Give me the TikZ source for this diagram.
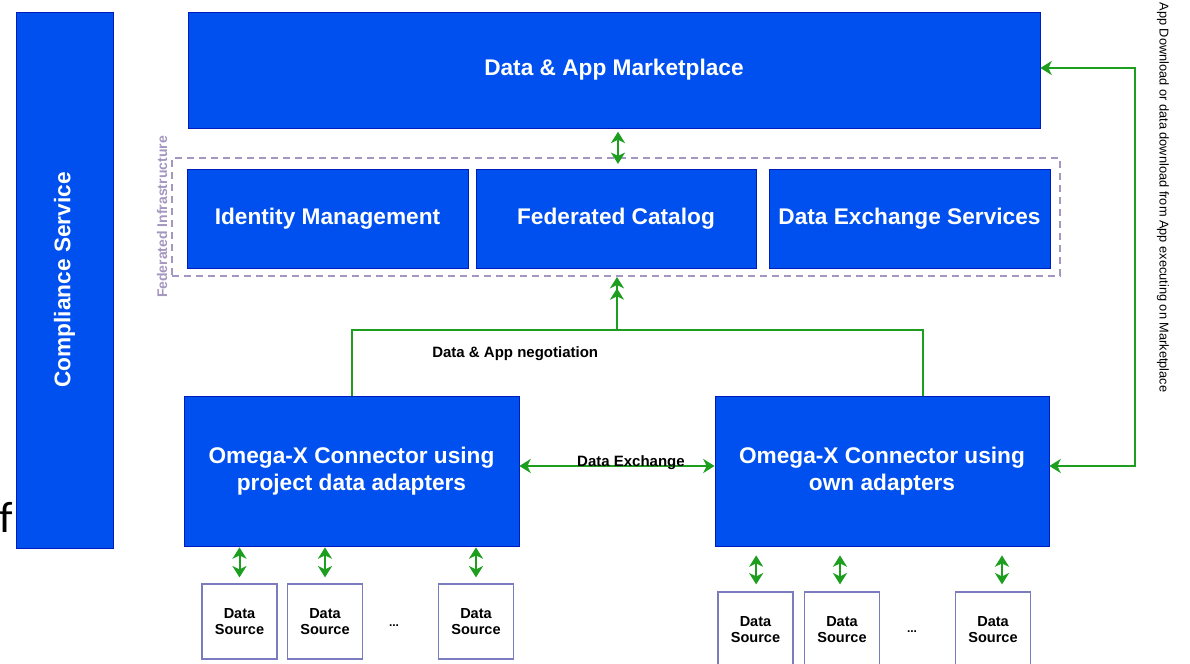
\documentclass[tikz,border=0pt]{standalone}
\usepackage{fontspec}
\setmainfont{Liberation Sans}
\newfontfamily\carl{Carlito}
\usetikzlibrary{arrows.meta,calc}
\definecolor{oxblue}{HTML}{0050EF}
\definecolor{oxstroke}{HTML}{001DBC}
\definecolor{oxgreen}{HTML}{1E9E1E}
\definecolor{dsstroke}{HTML}{7B7BC0}
\definecolor{fedcol}{HTML}{A496C0}
\begin{document}
\begin{tikzpicture}[x=0.75pt,y=-0.75pt,
  bluebox/.style={draw=oxstroke, line width=0.6pt, fill=oxblue, text=white,
    font=\bfseries\fontsize{17}{20}\selectfont, align=center, inner sep=0pt},
  dsbox/.style={draw=dsstroke, line width=0.9pt, fill=white,
    font=\bfseries\fontsize{10.9}{12}\selectfont, align=center,
    minimum width=56.25pt, minimum height=56.25pt, inner sep=0pt},
  tipS/.tip={Stealth[length=8.5pt,width=10.5pt,inset=2.5pt]},
  garrow/.style={draw=oxgreen, line width=1.5pt, tipS-tipS},
  gline/.style={draw=oxgreen, line width=1.5pt},
  lbl/.style={font=\bfseries\fontsize{11.25}{13}\selectfont, inner sep=0pt},
  fedbox/.style={draw=fedcol, line width=1.5pt, dash pattern=on 5.25pt off 3.75pt},
]
\useasboundingbox (0,0) rectangle (1190,664);
\fill[white] (0,0) rectangle (1190,664);

% left cut-off character
\node[font=\carl\fontsize{33}{34}\selectfont, anchor=base west, inner sep=0pt] (fchar) at (-1,532) {f};

% compliance
\node[bluebox, rotate=90, minimum width=402pt, minimum height=72.75pt] (comp) at (64.5,280) {Compliance Service};

% marketplace
\node[bluebox, minimum width=639pt, minimum height=87pt] (market) at (614,70) {Data \& App Marketplace};

% federated infrastructure
\node[fedbox, minimum width=666pt, minimum height=88.5pt, inner sep=0pt] (fed) at (616,217) {};
\node[rotate=90, text=fedcol, font=\bfseries\fontsize{10.5}{12}\selectfont, inner sep=0pt] (fedlbl) at (162,217) {Federated Infrastructure};
\node[bluebox, minimum width=210.75pt, minimum height=74.25pt] (idm) at (327.5,218.5) {Identity Management};
\node[bluebox, minimum width=210pt, minimum height=74.25pt] (fcat) at (616,218.5) {Federated Catalog};
\node[bluebox, minimum width=210.75pt, minimum height=74.25pt] (dxs) at (909.5,218.5) {Data Exchange Services};

% connectors
\node[bluebox, minimum width=251.25pt, minimum height=112.5pt] (conL) at (351.5,471) {Omega-X Connector using\\project data adapters};
\node[bluebox, minimum width=250.5pt, minimum height=112.5pt] (conR) at (882,471) {Omega-X Connector using\\own adapters};

% data sources
\node[dsbox] (ds1) at (239.5,621.5) {Data\\Source};
\node[dsbox] (ds2) at (325,621.5) {Data\\Source};
\node[dsbox] (ds3) at (476,621.5) {Data\\Source};
\node[dsbox] (ds4) at (755.5,629.5) {Data\\Source};
\node[dsbox] (ds5) at (842,629.5) {Data\\Source};
\node[dsbox] (ds6) at (993,629.5) {Data\\Source};
\node[font=\bfseries\fontsize{9}{10}\selectfont, inner sep=0pt] (dotsL) at (394,626) {...};
\node[font=\bfseries\fontsize{9}{10}\selectfont, inner sep=0pt] (dotsR) at (912,632) {...};

% market <-> catalog
\draw[garrow, shorten <=2.5pt, shorten >=3.5pt] (market.south -| 618,0) -- (fcat.north -| 618,0);

% negotiation
\coordinate (negL) at (351.5,330);
\coordinate (negR) at (923,330);
\coordinate (negM) at (617,330);
\draw[gline] (conL.north) -- (negL) -- (negR) -- (negR |- conR.north);
\draw[gline, -{Stealth[length=8.5pt,width=10.5pt,inset=2.5pt]Stealth[length=8.5pt,width=10.5pt,inset=2.5pt]}] (negM) -- (negM |- fed.south);
\node[lbl, anchor=west] (neglbl) at (432,354) {Data \& App negotiation};

% data exchange
\draw[garrow] ([yshift=3.75pt]conL.east) -- ([yshift=3.75pt]conR.west);
\node[lbl, anchor=base] (dxlbl) at (631,466) {Data Exchange};

% right loop
\coordinate (rtTop) at (1135,68);
\coordinate (rtBot) at (1135,466);
\draw[garrow] ([yshift=1.5pt]market.east) -- (rtTop) -- (rtBot) -- (conR.east |- rtBot);
\node[rotate=-90, font=\fontsize{9.6}{11}\selectfont, inner sep=0pt] (apptext) at (1163,197.5) {App Download or data download from App executing on Marketplace};

% data source arrows
\foreach \d in {ds1,ds2,ds3}{
  \draw[garrow, shorten <=4.5pt, shorten >=0.75pt] (\d.north) -- (\d.north |- conL.south);
}
\draw[garrow, shorten <=5.25pt, shorten >=6.75pt] ([xshift=0.5pt]ds4.north) -- ([xshift=0.5pt]ds4.north |- conR.south);
\draw[garrow, shorten <=5.25pt, shorten >=6.75pt] ([xshift=-1.5pt]ds5.north) -- ([xshift=-1.5pt]ds5.north |- conR.south);
\draw[garrow, shorten <=5.25pt, shorten >=6.75pt] ([xshift=6.75pt]ds6.north) -- ([xshift=6.75pt]ds6.north |- conR.south);
\end{tikzpicture}
\end{document}
